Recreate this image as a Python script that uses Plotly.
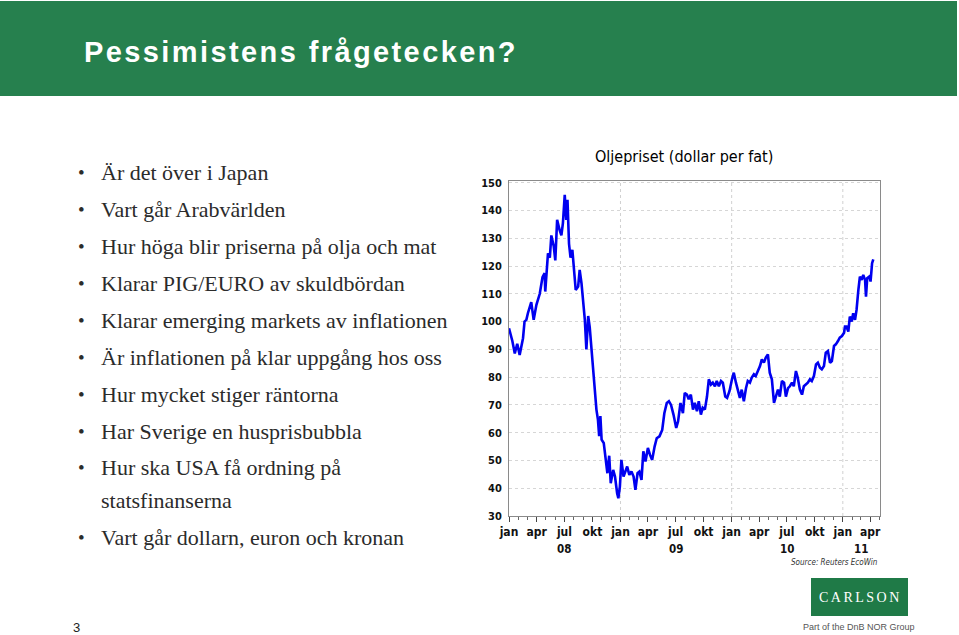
import plotly.graph_objects as go

# ---------------- data ----------------
dates = [
    "2008-01-01", "2008-01-12", "2008-01-20", "2008-01-28", "2008-02-05", "2008-02-16", "2008-02-21",
    "2008-02-27", "2008-03-03", "2008-03-14", "2008-03-22", "2008-03-31", "2008-04-11", "2008-04-20",
    "2008-04-27", "2008-04-29", "2008-05-08", "2008-05-14", "2008-05-19", "2008-05-27", "2008-06-01",
    "2008-06-07", "2008-06-15", "2008-06-21", "2008-06-26", "2008-07-02", "2008-07-07", "2008-07-11",
    "2008-07-16", "2008-07-21", "2008-07-27", "2008-08-02", "2008-08-07", "2008-08-15", "2008-08-20",
    "2008-08-26", "2008-09-06", "2008-09-11", "2008-09-17", "2008-09-22", "2008-09-27", "2008-10-03",
    "2008-10-08", "2008-10-14", "2008-10-19", "2008-10-23", "2008-10-27", "2008-10-31", "2008-11-07",
    "2008-11-14", "2008-11-19", "2008-11-25", "2008-11-30", "2008-12-08", "2008-12-14", "2008-12-21",
    "2008-12-25", "2008-12-30",
    "2009-01-04", "2009-01-11", "2009-01-17", "2009-01-23", "2009-01-30", "2009-02-06", "2009-02-13",
    "2009-02-19", "2009-02-26", "2009-03-04", "2009-03-11", "2009-03-17", "2009-03-24", "2009-04-01",
    "2009-04-08", "2009-04-15", "2009-04-23", "2009-04-30", "2009-05-09", "2009-05-18", "2009-05-25",
    "2009-06-02", "2009-06-09", "2009-06-16", "2009-06-24", "2009-07-03", "2009-07-09", "2009-07-17",
    "2009-07-25", "2009-07-31", "2009-08-07", "2009-08-13", "2009-08-20", "2009-08-27", "2009-09-02",
    "2009-09-09", "2009-09-15", "2009-09-22", "2009-09-28", "2009-10-05", "2009-10-12", "2009-10-18",
    "2009-10-25", "2009-10-31", "2009-11-07", "2009-11-13", "2009-11-20", "2009-11-27", "2009-12-03",
    "2009-12-11", "2009-12-17", "2009-12-25",
    "2010-01-02", "2010-01-08", "2010-01-15", "2010-01-21", "2010-01-28", "2010-02-03", "2010-02-10",
    "2010-02-17", "2010-02-23", "2010-03-02", "2010-03-08", "2010-03-15", "2010-03-21", "2010-03-28",
    "2010-04-04", "2010-04-10", "2010-04-17", "2010-04-23", "2010-04-30", "2010-05-06", "2010-05-13",
    "2010-05-20", "2010-05-26", "2010-06-02", "2010-06-08", "2010-06-15", "2010-06-22", "2010-06-28",
    "2010-07-05", "2010-07-11", "2010-07-18", "2010-07-24", "2010-07-31", "2010-08-06", "2010-08-13",
    "2010-08-20", "2010-08-26", "2010-09-02", "2010-09-08", "2010-09-15", "2010-09-21", "2010-09-28",
    "2010-10-05", "2010-10-11", "2010-10-18", "2010-10-24", "2010-10-31", "2010-11-06", "2010-11-13",
    "2010-11-20", "2010-11-26", "2010-12-03", "2010-12-09", "2010-12-16", "2010-12-22", "2010-12-29",
    "2011-01-05", "2011-01-08", "2011-01-13", "2011-01-19", "2011-01-24", "2011-01-30", "2011-02-04",
    "2011-02-10", "2011-02-15", "2011-02-21", "2011-02-26", "2011-03-04", "2011-03-09", "2011-03-15",
    "2011-03-18", "2011-03-22", "2011-03-29", "2011-04-02", "2011-04-07", "2011-04-11",
]
oil_price = [
    97.6, 93.0, 88.5, 92.0, 88.0, 94.0, 100.0,
    100.6, 103.0, 107.0, 100.6, 106.0, 110.0, 116.0,
    117.4, 110.8, 124.6, 123.0, 131.0, 127.0, 122.0,
    136.6, 133.0, 131.0, 135.4, 145.6, 136.6, 143.8,
    128.0, 123.0, 125.8, 117.4, 111.4, 112.6, 118.6,
    113.8, 100.6, 90.0, 102.0, 98.0, 91.2, 85.0,
    78.0, 68.3, 64.7, 58.7, 66.0, 57.5, 56.3,
    49.0, 45.4, 51.7, 41.8, 46.6, 44.2, 38.2,
    36.4, 40.6,
    50.2, 44.2, 46.0, 47.8, 44.8, 46.0, 44.2,
    39.4, 45.4, 46.0, 43.0, 53.3, 49.6, 54.5,
    52.0, 50.2, 55.0, 58.0, 58.7, 61.0, 67.0,
    70.7, 71.3, 70.0, 66.5, 61.7, 64.0, 70.7,
    67.0, 74.3, 73.7, 72.0, 73.7, 68.3, 70.7,
    67.7, 71.3, 66.5, 69.0, 68.3, 73.0, 79.2,
    77.3, 78.0, 76.7, 78.6, 76.7, 78.6, 78.0,
    73.0, 72.5, 75.0,
    79.2, 81.6, 78.0, 75.0, 72.5, 75.5, 71.3,
    76.0, 78.6, 78.0, 79.8, 81.0, 80.4, 82.2,
    84.0, 86.4, 85.2, 87.0, 88.2, 81.6, 79.2,
    70.7, 73.0, 75.5, 73.0, 78.6, 78.0, 73.0,
    76.0, 76.7, 78.0, 76.7, 82.2, 79.8, 75.5,
    73.7, 76.7, 77.3, 78.0, 79.2, 78.6, 80.4,
    84.6, 85.2, 83.4, 82.8, 84.0, 88.8, 89.4,
    85.2, 85.8, 91.2, 91.8, 93.0, 94.2, 94.8,
    96.0, 98.2, 98.2, 96.4, 101.8, 100.0, 103.0,
    100.6, 104.2, 111.4, 116.2, 115.0, 116.8, 115.0,
    109.0, 115.6, 116.2, 114.4, 121.0, 122.4,
]

quarter_ticks = ["2008-01-01", "2008-04-01", "2008-07-01", "2008-10-01",
                 "2009-01-01", "2009-04-01", "2009-07-01", "2009-10-01",
                 "2010-01-01", "2010-04-01", "2010-07-01", "2010-10-01",
                 "2011-01-01", "2011-04-01"]
quarter_labels = ["jan", "apr", "jul", "okt"] * 3 + ["jan", "apr"]
year_positions = ["2008-07-01", "2009-07-01", "2010-07-01", "2011-03-01"]
year_labels = ["08", "09", "10", "11"]
year_starts = ["2009-01-01", "2010-01-01", "2011-01-01"]

bullets = [
    ("•", "Är det över i Japan"),
    ("•", "Vart går Arabvärlden"),
    ("•", "Hur höga blir priserna på olja och mat"),
    ("•", "Klarar PIG/EURO av skuldbördan"),
    ("•", "Klarar emerging markets av inflationen"),
    ("•", "Är inflationen på klar uppgång hos oss"),
    ("•", "Hur mycket stiger räntorna"),
    ("•", "Har Sverige en husprisbubbla"),
    ("•", "Hur ska USA få ordning på"),
    ("", "statsfinanserna"),
    ("•", "Vart går dollarn, euron och kronan"),
]
bullet_rows = [172, 209, 246, 283, 320, 357, 394, 431, 467, 500, 537]

# ---------------- layout geometry (pixels) ----------------
W, H = 959, 635
L, R, T, B = 509, 880, 181, 516


def fx(p):
    return (p - L) / (R - L)


def fy(p):
    return (B - p) / (B - T)


NARROW = "Liberation Sans Narrow, Arial Narrow, DejaVu Sans Condensed, sans-serif"
SERIF = "Liberation Serif, Times New Roman, serif"
GREEN = "#26804E"

fig = go.Figure()
fig.add_trace(go.Scatter(x=dates, y=oil_price, mode="lines",
                         line=dict(color="#0000F0", width=2.6), hoverinfo="skip",
                         showlegend=False))

for ys in year_starts:
    fig.add_vline(x=ys, line=dict(color="#d0d0d0", width=1, dash="dot"), layer="below")

shapes = [
    # header bar
    dict(type="rect", xref="paper", yref="paper", x0=fx(0), x1=fx(957), y0=fy(96), y1=fy(1),
         fillcolor=GREEN, line=dict(width=0), layer="below"),
    # logo box
    dict(type="rect", xref="paper", yref="paper", x0=fx(811), x1=fx(908), y0=fy(616), y1=fy(578),
         fillcolor="#1F7A47", line=dict(width=0), layer="below"),
]
for s in shapes:
    fig.add_shape(**s)

ann = []
ann.append(dict(text='<span style="letter-spacing:2.4px">Pessimistens frågetecken?</span>',
                x=fx(82), y=fy(52), xanchor="left", yanchor="middle",
                font=dict(family="Liberation Sans, Arial, sans-serif", size=29, color="white", weight="bold")))
ann.append(dict(text="Oljepriset (dollar per fat)", x=fx(684), y=fy(157), xanchor="center", yanchor="middle",
                font=dict(family=NARROW, size=16, color="#000")))
for (b, t), yy in zip(bullets, bullet_rows):
    if b:
        ann.append(dict(text=b, x=fx(76), y=fy(yy), xanchor="left", yanchor="middle",
                        font=dict(family=SERIF, size=19, color="#2b2b2b")))
    ann.append(dict(text=t, x=fx(99), y=fy(yy), xanchor="left", yanchor="middle",
                    font=dict(family=SERIF, size=22, color="#2b2b2b")))
for pos, lab in zip(year_positions, year_labels):
    ann.append(dict(text=lab, x=pos, xref="x", y=fy(549), xanchor="center", yanchor="middle",
                    font=dict(family=NARROW, size=11.5, color="#111", weight="bold")))
ann.append(dict(text="<i>Source: Reuters EcoWin</i>", x=fx(880), y=fy(562), xanchor="right", yanchor="middle",
                font=dict(family=NARROW, size=8, color="#333")))
ann.append(dict(text='<span style="letter-spacing:2.5px">CARLSON</span>', x=fx(860), y=fy(597),
                xanchor="center", yanchor="middle",
                font=dict(family=SERIF, size=14, color="white")))
ann.append(dict(text="Part of the DnB NOR Group", x=fx(859), y=fy(627), xanchor="center", yanchor="middle",
                font=dict(family="Liberation Sans, Arial, sans-serif", size=9, color="#555")))
ann.append(dict(text="3", x=fx(77), y=fy(627), xanchor="center", yanchor="middle",
                font=dict(family="Liberation Sans, Arial, sans-serif", size=13, color="#222")))

for a in ann:
    a.setdefault("xref", "paper")
    a.setdefault("yref", "paper")
    a["showarrow"] = False
    fig.add_annotation(**a)

fig.update_layout(
    width=W, height=H, autosize=False,
    margin=dict(l=L, r=W - R, t=T, b=H - B, pad=0),
    paper_bgcolor="white", plot_bgcolor="white",
    xaxis=dict(range=["2008-01-01", "2011-05-03"], tickvals=quarter_ticks, ticktext=quarter_labels,
               showgrid=False, zeroline=False, showline=True, linecolor="#8a8a8a", linewidth=1,
               mirror=True, ticks="outside", ticklen=5, tickcolor="#444",
               minor=dict(dtick="M1", tick0="2008-01-01", ticks="outside", ticklen=3, tickcolor="#666"),
               tickfont=dict(family=NARROW, size=12, color="#111", weight="bold")),
    yaxis=dict(range=[30, 150.6], dtick=10, tick0=30, showgrid=True, gridcolor="#d6d6d6",
               griddash="dot", zeroline=False, showline=True, linecolor="#8a8a8a", linewidth=1,
               mirror=True, ticks="", ticklabelstandoff=4,
               tickfont=dict(family=NARROW, size=11, color="#111", weight="bold")),
)

fig.write_html("out.html")
